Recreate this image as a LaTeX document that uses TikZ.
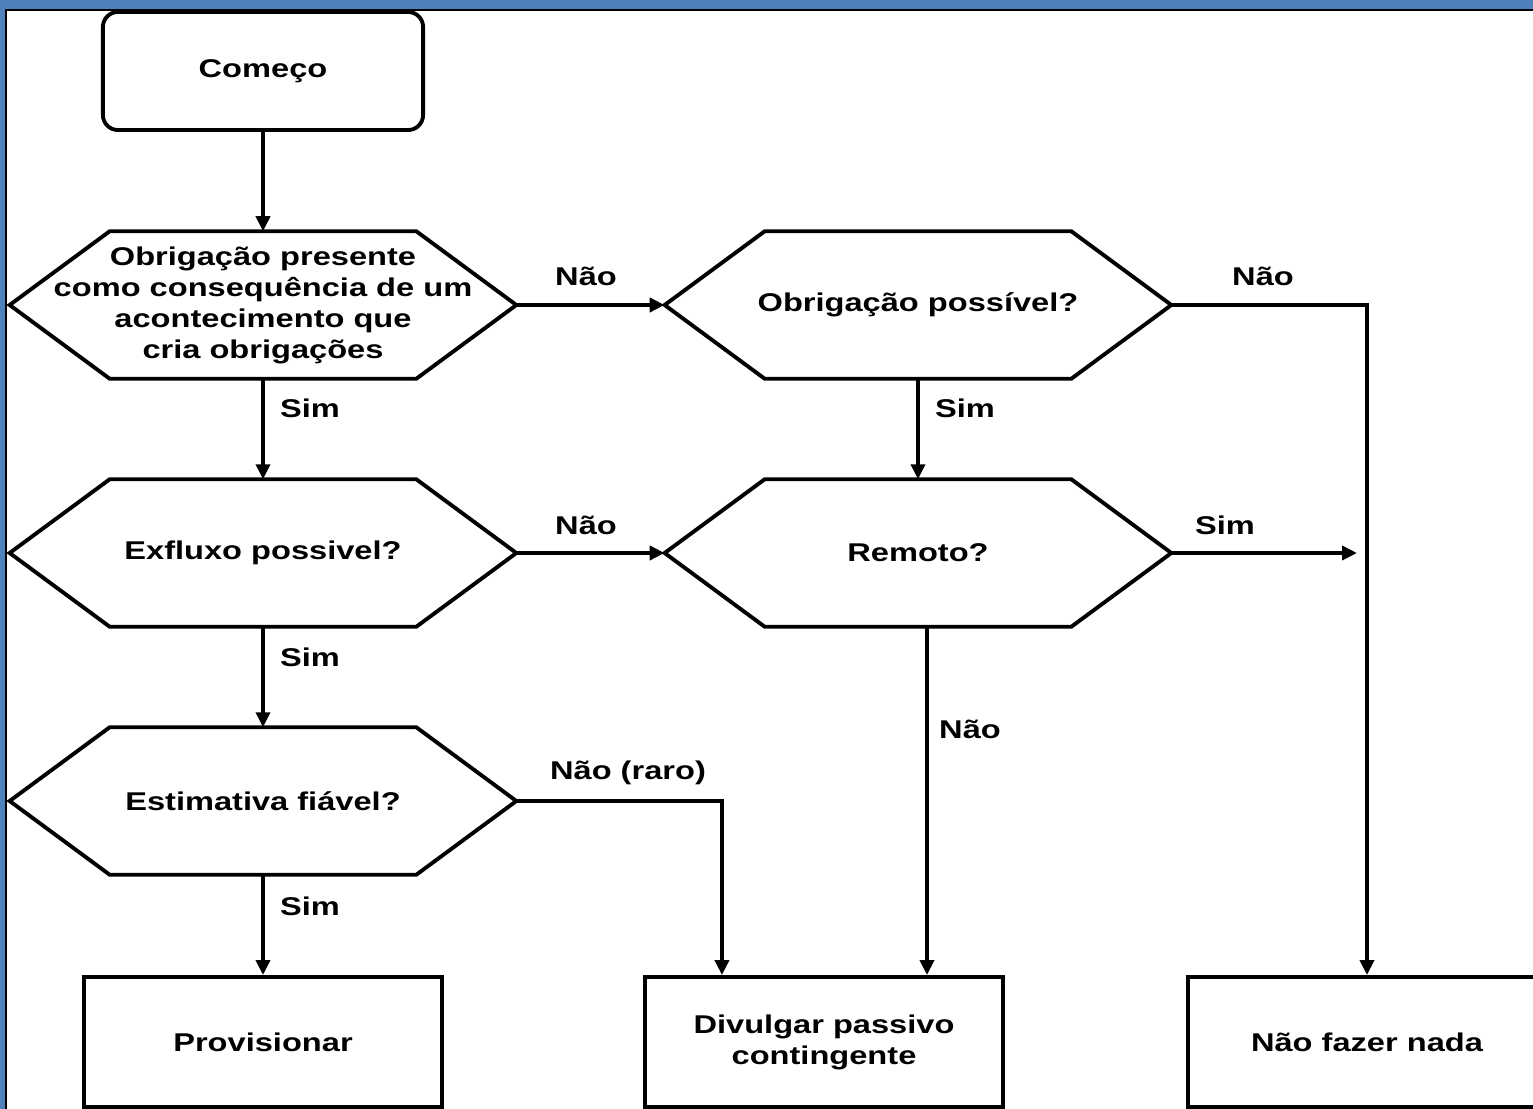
\documentclass[tikz,border=0pt]{standalone}
\usepackage{fontspec}
\setmainfont{Liberation Sans}[FakeStretch=1.27]
\usepackage{tikz}
\usetikzlibrary{calc,arrows.meta}
\definecolor{frameblue}{RGB}{79,129,189}

\begin{document}
\begin{tikzpicture}[x=0.01cm, y=-0.01cm,
  every node/.style={font=\fontsize{7.3pt}{8.8pt}\selectfont\bfseries, align=center},
  start/.style={draw, line width=1.1pt, rounded corners=0.15cm, minimum width=3.2cm, minimum height=1.18cm},
  hexa/.style={minimum width=5.05cm, minimum height=1.46cm, inner sep=0pt},
  outbox/.style={draw, line width=1.1pt, minimum width=3.57cm, minimum height=1.3cm},
  line/.style={line width=1.1pt},
  arr/.style={line width=1.1pt, -{Triangle[length=0.15cm, width=0.14cm]}}]
  \useasboundingbox (0,0) rectangle (1533,1109);
  \clip (0,0) rectangle (1533,1109);
  % moldura
  \fill[frameblue] (0,0) rectangle (1533,1109);
  \fill[white] (6,10) rectangle (1533,1109);
  \draw[line width=0.6pt] (6,1109) -- (6,10) -- (1533,10);

  \node[start]  (comeco) at ( 263,  71){Começo};
  \node[hexa]   (q1)     at ( 263, 305){Obrigação presente\\como consequência de um\\acontecimento que\\cria obrigações};
  \node[hexa]   (q2)     at ( 918, 305){Obrigação possível?};
  \node[hexa]   (q3)     at ( 263, 553){Exfluxo possivel?};
  \node[hexa]   (q4)     at ( 918, 553){Remoto?};
  \node[hexa]   (q5)     at ( 263, 801){Estimativa fiável?};
  \node[outbox] (prov)   at ( 263,1042){Provisionar};
  \node[outbox] (div)    at ( 824,1042){Divulgar passivo\\contingente};
  \node[outbox] (nada)   at (1367,1042){Não fazer nada};
  \coordinate   (fim)    at (1357, 553);

  \foreach \n in {q1,q2,q3,q4,q5}
    \draw[line] (\n.west) -- ([xshift=1.0cm]\n.north west) -- ([xshift=-1.0cm]\n.north east)
      -- (\n.east) -- ([xshift=-1.0cm]\n.south east) -- ([xshift=1.0cm]\n.south west) -- cycle;

  \node (n1) at ( 586, 276){Não};
  \node (n2) at (1263, 276){Não};
  \node (n3) at ( 586, 525){Não};
  \node (s1) at (1225, 525){Sim};
  \node (s2) at ( 310, 408){Sim};
  \node (s3) at ( 965, 408){Sim};
  \node (s4) at ( 310, 657){Sim};
  \node (n4) at ( 970, 729){Não};
  \node (n5) at ( 628, 773){Não (raro)};
  \node (s5) at ( 310, 906){Sim};

  \draw[arr] (comeco) -- (q1);
  \draw[arr] (q1.east) -- (q2.west);
  \draw[arr] (q2.east) -| (nada.north);
  \draw[arr] (q1.south) -- (q3.north);
  \draw[arr] (q2.south) -- (q4.north);
  \draw[arr] (q3.east) -- (q4.west);
  \draw[arr] (q4.east) -- (fim);
  \draw[arr] ([xshift=0.09cm]q4.south) -- ([xshift=0.09cm]q4.south |- div.north);
  \draw[arr] (q3.south) -- (q5.north);
  \draw[arr] (q5.east) -| ([xshift=-1.02cm]div.north);
  \draw[arr] (q5.south) -- (prov.north);
\end{tikzpicture}
\end{document}
